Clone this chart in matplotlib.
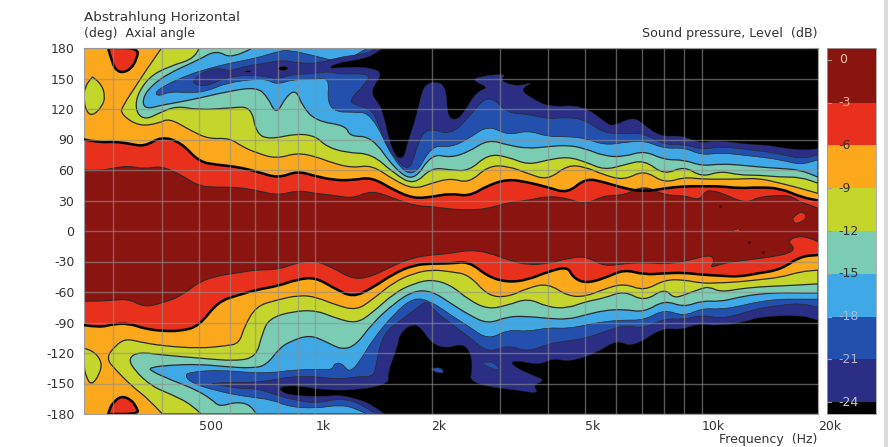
import math
import matplotlib
matplotlib.use('Agg')
import matplotlib.pyplot as plt
from matplotlib.patches import PathPatch, Rectangle
from matplotlib.path import Path

# band colours, warm to cold
c_darkred = '#8a1410'
c_red = '#e8301c'
c_orange = '#fba81c'
c_yellow = '#c4d62c'
c_teal = '#7acdb2'
c_ltblue = '#3fa8e6'
c_blue = '#2350ad'
c_navy = '#2a2f85'
c_black = '#000000'

# frequencies (Hz) for the curves
freq = [252, 276, 300, 330, 361, 400, 450, 500, 560, 632, 712, 802, 898, 1000, 1120, 1250,
        1400, 1600, 1800, 2000, 2240, 2500, 2800, 3150, 3550, 4000, 4500, 5000, 5600, 6300,
        7100, 8000, 9000, 10000, 11200, 12500, 14000, 16000, 18000, 20000]
freq_1250 = freq[15:]
freq_1400 = freq[16:]
freq_1600 = freq[17:]
freq_2240 = freq[20:]

# centre lobe, angle of the -3 and -6 dB contours
m3_up_f = freq[:33] + [9870, 10170, 10650, 11600, 12400, 13300, 14100, 16600, 17400, 17900, 20000]
m3_up = [60, 59, 62, 64, 61, 64, 55, 44, 43, 43, 39.5, 35, 40, 37, 35, 32, 40, 32, 25, 24, 21.5, 20.5,
         22, 28, 30, 34.5, 32, 26, 35, 35, 45, 35, 35,
         30, 38.7, 40, 35.4, 30, 28.4, 33.8, 35.4, 32, 29, 22.5]
m6_up = [90, 87, 88, 86, 83, 93, 87, 68, 65, 63, 58, 52, 59, 54, 50, 50, 53, 40, 32, 33.5, 37, 34, 45,
         51, 48, 43, 37, 52, 48, 42, 38.5, 42, 44, 44, 44, 42, 43, 42, 33.6, 30]
m3_lo_f = freq[:33] + [9700, 10610, 10800, 10490, 11330, 13080, 15270, 16900, 17400, 16700, 17400, 18820, 20000]
m3_lo = [-69, -69, -68, -67, -75, -71, -64, -50, -44, -41, -38, -38, -31, -29, -37, -47.5, -45, -33.5,
         -26, -23.6, -22, -18.7, -21, -28.5, -33.5, -32, -27, -24.6, -35, -32, -31, -32.5, -30,
         -26.6, -23.6, -30, -36.6, -31.7, -28.5, -25.3, -21.8, -16.8, -10.5, -5.6, -5.6, -10.5]
m6_lo_f = freq[:27] + [4640] + freq[27:]
m6_lo = [-92.5, -95, -91.5, -91, -96, -98.4, -98.4, -93.5, -69.5, -63, -57.4, -54, -47.6, -45.6, -56.4,
         -65.3, -56.4, -41.6, -33.5, -32, -32, -30, -45, -50.5, -48, -40, -35, -45.6, -51.5, -46.6,
         -37.7, -43, -41.6, -41, -43, -44, -45, -41.6, -38, -25, -23.6]

# upper half, colder regions
m9_up_f = [400, 314, 316, 350, 394, 419, 480, 531, 599, 647, 703, 792, 898, 1006, 1106, 1247] + freq_1400
m9_up = [180, 122.6, 114, 103, 106, 111, 98, 90.5, 91.5, 83, 77, 71, 77, 73, 67, 62,
         65, 50, 41, 47, 52, 47, 64, 64, 56.5, 50, 65, 63, 55, 50, 60, 47, 53, 51, 51, 51, 52, 47, 42, 37]
m12_up_f = [500, 491, 419, 372, 344, 344, 364, 394, 437, 500, 599, 683, 703, 760, 898, 1006, 1068, 1203] + freq_1400
m12_up = [180, 170, 162, 152, 132.5, 116, 109.5, 116, 123, 119, 121, 122.6, 96, 90, 96, 93, 83, 77,
          76, 56.5, 45, 62.5, 60, 59, 75.6, 73, 65, 70, 73, 68, 60, 65, 70, 55, 64, 53, 59, 55, 55, 53, 53, 47]
m15_up_f = [687, 610, 554, 500, 411, 367, 356, 367, 402, 480, 588, 703, 751, 792, 841, 893, 926, 1006, 1203, 1225] + freq_1400
m15_up = [180, 169, 178, 168.5, 154, 139, 126, 120, 124, 129, 137, 141.6, 132.5, 114, 132.5, 139, 122.6, 108, 103.6, 93,
          93, 61.5, 48.5, 76, 72, 78, 90, 84.5, 81, 83, 84.5, 81, 73.6, 73, 79, 70, 70, 64, 66, 65, 63, 61.5, 60, 53]
m18_up_f = [1356, 1324, 1154, 1006, 856, 807, 703, 599, 531, 472, 411, 383, 394, 419, 472, 522, 588, 703, 747, 797,
            872, 1006, 1087, 1074, 1134] + freq_1250
m18_up = [180, 176, 166, 172, 178, 177, 170, 165, 160, 154, 144, 136, 132.5, 137, 136, 137, 145.6, 149.5, 149, 144,
          149, 149.5, 150.5, 126, 117,
          117, 115.6, 68, 51.6, 84.5, 82, 91, 104, 94, 99, 92.6, 93, 91, 84.5, 87, 89, 81, 82, 74.6, 77, 75, 73, 70, 65, 70]
m21_up_f = [1421, 1405, 1277, 1154, 1024, 909, 821, 747, 663, 599, 574, 522, 472, 522, 588, 703, 797, 872, 1006, 1087,
            1154, 1397, 1338, 1225, 1262, 1405, 1465, 1554, 1600, 1680, 1770, 1840, 1950] + freq_2240
m21_up = [180, 176, 173, 171, 165, 165, 168.5, 165, 162.6, 157, 160, 159, 145.6, 141.6, 151.5, 154, 149, 154, 155, 157,
          154, 155, 143.5, 129, 124, 119.5, 102.5, 78, 74.6, 63, 61.5, 86, 102,
          94, 112, 135, 115.6, 115, 110, 112, 109, 96, 96, 96, 84.5, 85.4, 80, 83, 81, 79, 75.6, 71, 74.6]
m24_up_f = [1491, 1421, 1277, 1154, 1074, 1154, 1277, 1405, 1491, 1421, 1397, 1447, 1491, 1554, 1602, 1650, 1700, 1730,
            1804, 1859, 1916, 2096, 2184, 2199, 2320, 2431, 2612, 2821, 2550, 2660, 3139, 2995, 3320, 3691, 3374, 3691,
            4034, 4912, 5674, 5880, 6630, 7030, 7790, 8930, 9870, 10920, 13300, 14700, 16600, 18680, 20000]
m24_up = [180, 173, 168, 166, 160, 160.5, 161.5, 160, 155, 143.5, 135, 127, 119, 89, 76, 71, 73, 86,
          106, 125.5, 145, 147, 138.6, 111.7, 109, 117, 137, 141, 148, 152, 155, 148, 142, 147, 139, 129,
          122, 124, 106, 103, 112, 106, 92.6, 94, 86, 89, 85, 84.5, 81, 79.5, 81]

# lower half, colder regions
m9_lo_f = [402, 372, 336, 305, 287, 305, 324, 350, 402, 500, 588, 636, 655, 703, 792, 909, 1006, 1134, 1277] + freq_1400
m9_lo = [-180, -166, -153, -137, -125, -112, -106, -109, -113, -115.5, -113, -110.5, -94, -74, -68, -63, -65, -73, -78,
         -68, -50, -41.6, -38, -40, -43, -64, -65, -56, -51.5, -64, -64.6, -57, -51.5, -59, -48, -48, -51.5, -51, -50,
         -48, -45.6, -40, -38.5]
m12_lo_f = [506, 480, 426, 378, 340, 328, 350, 402, 500, 622, 703, 729, 760, 872, 1006, 1134, 1277,
            1400, 1600, 1800, 2000, 2240, 2500, 2800, 3150, 3550, 4000, 4500, 5000, 5600, 6300, 7100, 8000, 8470, 9000,
            10000, 10470, 11200, 12500, 14000, 16000, 18000, 20000]
m12_lo = [-180, -171, -161, -153, -137, -125, -119, -122, -125, -128, -124, -100.7, -86, -79, -78, -86, -91,
          -81, -61, -51.5, -47.6, -53, -68, -77, -73, -66, -75, -76, -69.5, -66, -58.7, -69.5, -56.4, -66, -63,
          -56.4, -55, -60, -57, -55, -54, -53, -52]
m15_lo_f = [703, 683, 622, 565, 541, 491, 426, 372, 376, 419, 500, 588, 687, 747, 807, 856, 965, 1068, 1174, 1277] + freq_1400
m15_lo = [-180, -171, -168, -173, -166, -156, -147, -137, -134, -132, -131, -133.5, -135, -132, -115.5, -109, -102, -109, -117, -112,
          -91.5, -71, -58.7, -59, -71, -82.6, -91.5, -84, -84, -86, -87, -82.6, -78, -77, -80, -68, -75, -68.5, -69.5,
          -65, -62, -60.7, -61, -61]
m18_lo_f = [1356, 1277, 1154, 1006, 856, 774, 663, 565, 480, 458, 480, 565, 687, 774, 872, 1006, 1106, 1120, 1174, 1225, 1300] + freq_1400
m18_lo = [-180, -174.5, -171, -174.5, -173, -166, -163, -158, -150, -141.7, -138.4, -136.8, -139.4, -139.4, -136.8, -136, -136.8,
          -130, -130, -139.4, -129,
          -108, -81, -65, -69.5, -82.6, -94, -107, -97, -99, -95, -96, -92.5, -89, -87.6, -87.6, -77, -84, -76, -77, -74,
          -69.5, -67, -67, -67]
m21_lo_f = [1438, 1300, 1154, 1006, 872, 774, 703, 636, 565, 531, 588, 687, 774, 872, 1006, 1134, 1300, 1420, 1438, 1482,
            1554] + freq_1600[:2] + [1950] + freq_1600[2:]
m21_lo = [-180, -169, -164.6, -169.6, -166, -160, -155, -155, -151.5, -150, -149, -149, -146.6, -143, -143, -146, -143, -143,
          -130, -107, -96, -92.5, -78, -68, -76, -91, -104, -120, -112, -119, -111, -108, -105.6, -99, -92.5, -96, -86,
          -87, -82.6, -86, -82, -76, -73, -71, -75]
m24_lo_f = [1509, 1405, 1300, 1154, 1068, 872, 815, 807, 909, 1042, 1300, 1554, 1537, 1631, 1650, 1751, 1859, 1997, 2184,
            2403, 2533, 2550, 2508, 2770, 3320, 3800, 3650, 3960, 3520, 3180, 3320, 3800, 4110, 4550, 5340, 6020, 6630,
            7920, 8760, 9870, 10930, 13100, 14100, 17900, 20000]
m24_lo = [-180, -171, -166, -161, -163, -162, -158, -153, -152, -156.5, -156.5, -150, -140, -114, -102, -92.5, -92.5, -110.5,
          -115.5, -110.5, -120, -138, -146.6, -153, -156.5, -160, -151.5, -146.6, -140, -130, -127, -132, -125, -128.6,
          -120, -107, -114.5, -94.8, -97.4, -90.8, -93.5, -89, -84.3, -82.6, -87.6]

# small islands
isl_yellow_up_f = [265, 279, 286, 281, 265, 255, 252, 253]
isl_yellow_up = [151.5, 145.6, 132.5, 122.6, 113, 118, 129, 142]
isl_yellow_lo_f = [252, 265, 281, 276, 263, 255, 252]
isl_yellow_lo = [-115.5, -117, -128.6, -141.7, -152, -143, -133.5]
isl_red_up_f = [291, 298, 307, 320, 334, 344, 350]
isl_red_up = [180, 165, 157, 156, 160, 168, 180]
isl_red_lo_f = [291, 294, 298, 314, 334, 344, 350]
isl_red_lo = [-180, -175, -170, -162, -166, -173, -180]
isl_black1_f = [655, 670, 687, 670]
isl_black1 = [157, 158, 157, 156]
isl_black2_f = [797, 825, 856, 825]
isl_black2 = [160, 163, 160, 157]
isl_navy_lo_f = [1990, 2080, 2170, 2080]
isl_navy_lo = [-136, -133, -139, -140]
isl_blue_lo_f = [2700, 2850, 3030, 2850]
isl_blue_lo = [-130, -127, -137, -135]
isl_hot1_f = [17200, 17600, 18300, 18700, 18200, 17400]
isl_hot1 = [12, 17, 19, 14, 9, 7]
isl_hot2_f = [11960, 12400, 12670]
isl_hot2 = [-0.7, 3.6, -0.7]
speck_f = [11130, 13240, 14370]
speck_a = [24.6, -10.5, -21]

y_ticks = [180, 150, 120, 90, 60, 30, 0, -30, -60, -90, -120, -150, -180]
x_grid = [300, 400, 500, 600, 700, 800, 900, 1000, 2000, 3000, 4000, 5000, 6000, 7000, 8000, 9000, 10000]
x_ticks = [500, 1000, 2000, 5000, 10000, 20000]
x_labels = ['500', '1k', '2k', '5k', '10k', '20k']

cb_edges = [0.84, -3, -6, -9, -12, -15, -18, -21, -24, -24.84]
cb_colors = [c_darkred, c_red, c_orange, c_yellow, c_teal, c_ltblue, c_blue, c_navy, c_black]
cb_labels = [0, -3, -6, -9, -12, -15, -18, -21, -24]
cb_label_colors = ['#f5c8a8', '#f5b090', '#333333', '#333333', '#333333', '#333333', '#a8b8d8', '#b0b0d0', '#c8c8c8']

txt = '#333333'
line = '#2a2a2a'

plt.rcParams['font.family'] = 'DejaVu Sans'
W, H = 888, 447
fig = plt.figure(figsize=(W / 100, H / 100), dpi=100)
ax = fig.add_axes([84 / W, (H - 414) / H, 734 / W, 366 / H])
ax.set_facecolor(c_orange)
ax.set_xscale('log')


def curve(f, a):
    # rounded path through the read points, midpoints taken on the log axis
    verts = [(f[0], a[0])]
    codes = [Path.MOVETO]
    for i in range(1, len(f) - 1):
        verts.append((f[i], a[i]))
        verts.append((math.sqrt(f[i] * f[i + 1]), (a[i] + a[i + 1]) / 2))
        codes += [Path.CURVE3, Path.CURVE3]
    verts.append((f[-1], a[-1]))
    codes.append(Path.LINETO)
    return verts, codes


def band(f, a, col, corner=None, lw=0.9, ec=line):
    if corner is None:
        # closed island
        verts, codes = curve(f + [f[0]], a + [a[0]])
    else:
        verts, codes = curve(f, a)
        verts = verts + [(20000, corner)]
        codes = codes + [Path.LINETO]
    verts = verts + [verts[0]]
    codes = codes + [Path.CLOSEPOLY]
    ax.add_patch(PathPatch(Path(verts, codes), facecolor=col, edgecolor=ec, linewidth=lw))


def lobe(f1, a1, f2, a2, col, ec, lw):
    v1, c1 = curve(f1, a1)
    v2, c2 = curve(f2[::-1], a2[::-1])
    c2[0] = Path.LINETO
    verts = v1 + v2 + [v1[0]]
    codes = c1 + c2 + [Path.CLOSEPOLY]
    ax.add_patch(PathPatch(Path(verts, codes), facecolor=col, edgecolor=ec, linewidth=lw))


def thick(f, a):
    verts, codes = curve(f, a)
    ax.add_patch(PathPatch(Path(verts, codes), facecolor='none', edgecolor='black', linewidth=1.8, zorder=4))


band(isl_yellow_up_f, isl_yellow_up, c_yellow)
band(isl_yellow_lo_f, isl_yellow_lo, c_yellow)
band(isl_red_up_f, isl_red_up, c_red, lw=1.8, ec='black')
band(isl_red_lo_f, isl_red_lo, c_red, lw=1.8, ec='black')

band(m9_up_f, m9_up, c_yellow, 180)
band(m12_up_f, m12_up, c_teal, 180)
band(m15_up_f, m15_up, c_ltblue, 180)
band(m18_up_f, m18_up, c_blue, 180, lw=0.5)
band(m21_up_f, m21_up, c_navy, 180, lw=0.5)
band(m24_up_f, m24_up, c_black, 180, lw=0.3)
band(isl_black1_f, isl_black1, c_black, lw=0.3)
band(isl_black2_f, isl_black2, c_black, lw=0.3)

band(m9_lo_f, m9_lo, c_yellow, -180)
band(m12_lo_f, m12_lo, c_teal, -180)
band(m15_lo_f, m15_lo, c_ltblue, -180)
band(m18_lo_f, m18_lo, c_blue, -180, lw=0.5)
band(m21_lo_f, m21_lo, c_navy, -180, lw=0.5)
band(m24_lo_f, m24_lo, c_black, -180, lw=0.3)
band(isl_navy_lo_f, isl_navy_lo, c_blue, lw=0.3)
band(isl_blue_lo_f, isl_blue_lo, c_blue, lw=0.3)

# centre lobe on top
lobe(freq, m6_up, m6_lo_f, m6_lo, c_red, 'none', 0)
lobe(m3_up_f, m3_up, m3_lo_f, m3_lo, c_darkred, line, 0.8)
band(isl_hot1_f, isl_hot1, c_red, lw=0.6)
band(isl_hot2_f, isl_hot2, c_red, lw=0.6)
ax.plot(speck_f, speck_a, ls='none', marker='o', ms=2.2, color='#4a0c08', mew=0)
thick(freq, m6_up)
thick(m6_lo_f, m6_lo)

ax.set_xlim(252, 20000)
ax.set_ylim(-180, 180)
for g in x_grid:
    ax.axvline(g, color='#909090', lw=1, alpha=0.6, zorder=6)
for g in y_ticks:
    ax.axhline(g, color='#909090', lw=1, alpha=0.6, zorder=6)

ax.set_xticks(x_ticks)
ax.set_xticklabels(x_labels, ha='left', color=txt, fontsize=9)
ax.minorticks_off()
ax.set_yticks(y_ticks)
ax.set_yticklabels([str(t) for t in y_ticks], color=txt, fontsize=9)
ax.tick_params(axis='x', length=0, pad=4)
ax.tick_params(axis='y', length=0, pad=7)
for s in ax.spines.values():
    s.set_edgecolor('#a0a0a0')
    s.set_linewidth(0.8)

# colour bar
cax = fig.add_axes([827 / W, (H - 414) / H, 49 / W, 366 / H])
for i in range(len(cb_colors)):
    cax.axhspan(cb_edges[i + 1], cb_edges[i], color=cb_colors[i], lw=0)
cax.set_xlim(0, 1)
cax.set_ylim(cb_edges[-1], cb_edges[0])
cax.set_xticks([])
cax.set_yticks([])
for s in cax.spines.values():
    s.set_edgecolor('#a0a0a0')
    s.set_linewidth(0.6)
for lab, col in zip(cb_labels, cb_label_colors):
    cax.plot([0, 0.09], [lab, lab], color='#a0a0a0', lw=0.8)
    cax.text(0.24, lab, str(lab), color=col, fontsize=9, va='center', ha='left')

fig.text(84 / W, 1 - 18 / H, 'Abstrahlung Horizontal', fontsize=9.7, color=txt, va='center')
fig.text(84 / W, 1 - 34 / H, '(deg)  Axial angle', fontsize=9, color=txt, va='center')
fig.text(817 / W, 1 - 34 / H, 'Sound pressure, Level  (dB)', fontsize=9.1, color=txt, va='center', ha='right')
fig.text(817 / W, 1 - 439 / H, 'Frequency  (Hz)', fontsize=9, color=txt, va='center', ha='right')
fig.add_artist(Rectangle((884 / W, 0), 4 / W, 1, transform=fig.transFigure, color='#dcdcdc', lw=0))

fig.savefig('out.png', dpi=100)
